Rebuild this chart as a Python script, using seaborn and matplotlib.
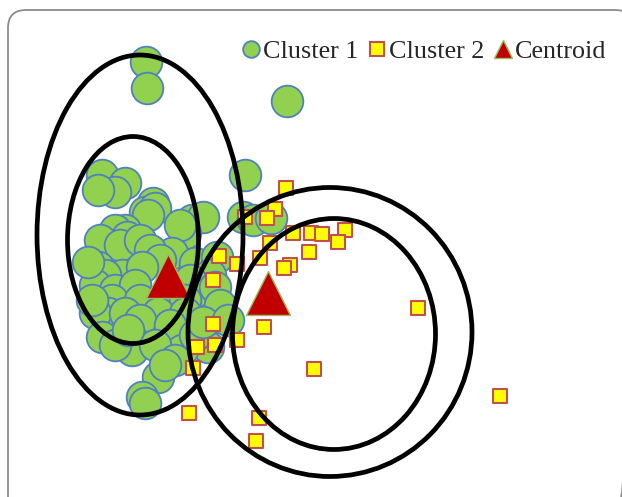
import numpy as np
import matplotlib
matplotlib.use("Agg")
import matplotlib.pyplot as plt
from matplotlib.patches import Ellipse, FancyBboxPatch
from matplotlib.lines import Line2D
import seaborn as sns

# ==========================
# Données (coordonnées)
# ==========================
c1_x = [146, 147, 287, 245,
        102, 125, 115, 98,
        153, 145, 155, 148,
        125, 115, 127, 100, 120, 140,
        192, 203, 185, 180,
        243, 253, 271,
        172, 150, 160,
        98, 122, 105, 142, 95, 115, 135,
        195, 217, 210, 190, 200,
        112, 162, 215, 140, 185,
        108, 95, 125, 158, 185, 208, 140, 170,
        102, 132, 208, 182, 132, 115, 155, 195,
        158, 142, 145, 175, 165,
        220, 203, 128, 88, 92, 228]
c1_y = [62, 88, 101, 175,
        175, 183, 192, 190,
        203, 212, 208, 215,
        230, 230, 237, 240, 245, 240,
        220, 217, 233, 225,
        217, 220, 218,
        253, 250, 260,
        267, 275, 275, 267, 285, 290, 285,
        263, 257, 275, 280, 295,
        300, 300, 287, 300, 300,
        313, 313, 313, 313, 313, 320, 320, 325,
        337, 340, 347, 350, 350, 345, 345, 335,
        377, 397, 403, 360, 365,
        305, 322, 330, 262, 300, 320]

c2_x = [286, 275, 267, 245, 270, 293, 311, 322, 345, 338, 309, 290, 284,
        260, 237, 219, 213, 264, 213, 237, 215, 197, 193, 314, 189, 259,
        256, 418, 500]
c2_y = [188, 209, 218, 217, 243, 233, 233, 234, 230, 242, 252, 265, 268,
        258, 264, 256, 280, 327, 324, 340, 345, 347, 368, 369, 413, 418,
        441, 308, 396]

cent_x = [168, 268]
cent_y = [276, 293]

# ellipses : centre x, centre y, largeur, hauteur
ell_cx = [140, 133, 330, 334]
ell_cy = [235, 240, 332, 334]
ell_w = [206, 131, 284, 203]
ell_h = [360, 207, 289, 231]

labels = ["Cluster 1", "Cluster 2", "Centroid"]

# ==========================
# Figure
# ==========================
sns.set_style("white")
plt.rcParams["font.family"] = ["Liberation Serif", "DejaVu Serif"]

fig = plt.figure(figsize=(6.22, 4.97), dpi=100)
ax = fig.add_axes([0, 0, 1, 1])
ax.set_xlim(0, 622)
ax.set_ylim(497, 0)
ax.axis("off")

green = "#92D050"
blue = "#4F81BD"
yellow = "#FFFF00"
red_edge = "#C0504D"
dark_red = "#C00000"
olive = "#9BBB59"

# cadre arrondi
frame = FancyBboxPatch((8, 10), 625, 505, boxstyle="round,pad=0,rounding_size=18",
                       fc="none", ec="#8C8C8C", lw=1.3, zorder=0)
ax.add_patch(frame)

sns.scatterplot(x=c1_x, y=c1_y, ax=ax, marker="o", s=520, color=green,
                edgecolor=blue, linewidth=1.3, zorder=2)
sns.scatterplot(x=c2_x, y=c2_y, ax=ax, marker="s", s=92, color=yellow,
                edgecolor=red_edge, linewidth=1.5, zorder=3)
sns.scatterplot(x=cent_x, y=cent_y, ax=ax, marker="^", s=1000, color=dark_red,
                edgecolor=olive, linewidth=1.0, zorder=4)

for cx, cy, w, h in zip(ell_cx, ell_cy, ell_w, ell_h):
    ax.add_patch(Ellipse((cx, cy), w, h, fc="none", ec="black", lw=3.4, zorder=5))

handles = [
    Line2D([], [], ls="none", marker="o", ms=12, mfc=green, mec=blue, mew=1.3),
    Line2D([], [], ls="none", marker="s", ms=9.5, mfc=yellow, mec=red_edge, mew=1.5),
    Line2D([], [], ls="none", marker="^", ms=12.5, mfc=dark_red, mec=olive, mew=1.0),
]
ax.legend(handles, labels, loc="upper right", bbox_to_anchor=(606 / 622, 1 - 40 / 497),
          ncol=3, frameon=False, fontsize=18.8, borderpad=0, borderaxespad=0,
          handlelength=0.6, handletextpad=0.15, columnspacing=0.42)

fig.savefig("out.png", dpi=100)
